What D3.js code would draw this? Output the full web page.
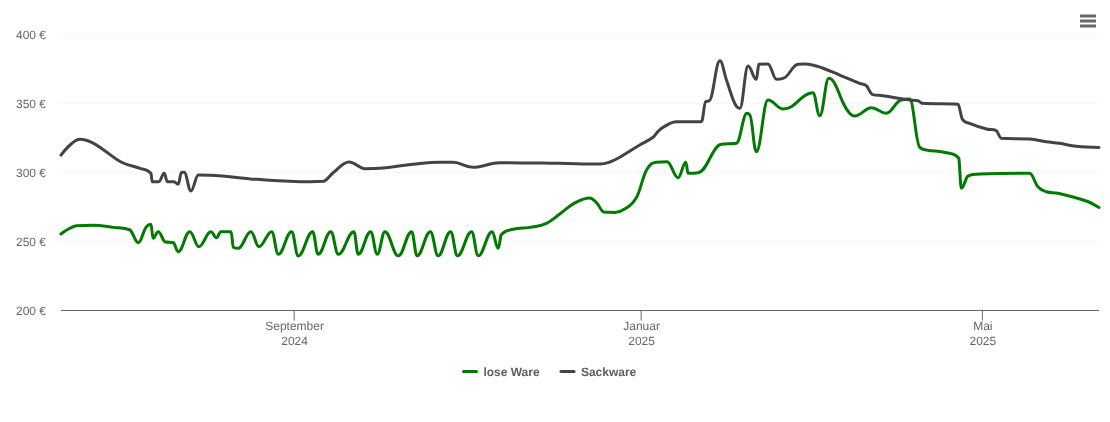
<!DOCTYPE html>
<html>
<head>
<meta charset="utf-8">
<script src="https://cdn.jsdelivr.net/npm/d3@7"></script>
<style>
  html, body { margin: 0; padding: 0; background: #fff; }
  svg { filter: blur(0.35px); }
  text { font-family: "Liberation Sans", Arial, sans-serif; text-rendering: geometricPrecision; }
</style>
</head>
<body>
<svg id="chart" width="1110" height="422"></svg>
<script>
// days are counted from the left edge of the axis
const startDate = '2024-06-11'
const endDate = '2025-06-11'

const yTicks = [200, 250, 300, 350, 400]
const xTicks = ['2024-09-01', '2025-01-01', '2025-05-01']
const xTickLabels = [['September', '2024'], ['Januar', '2025'], ['Mai', '2025']]
const seriesNames = ['lose Ware', 'Sackware']
const seriesColors = ['#007a00', '#434343']

const loseDays = [0, 2.6, 5.5, 11.2, 18.4, 24.3, 27.2, 30.1, 31.6, 32.4, 34.2, 36.6, 39.5, 41.2, 45.3, 48.5, 52.7, 54.7, 56.2, 59.8, 60.6, 62.3, 66.8, 69.6, 74.1, 76.4, 81.1, 83.4, 88.5, 90.4, 94.9, 97.5, 103, 104.5, 108.9, 111.2, 113.9, 118.6, 123.3, 125.2, 129.9, 132.6, 137, 139.4, 144.4, 146.7, 151.6, 153.7, 154.7, 159, 164.9, 170.7, 175.4, 180.7, 185.9, 188.4, 190.9, 194.7, 198.2, 202.4, 205.9, 209.4, 213.1, 217, 219.7, 220.5, 224, 232.2, 237.5, 241.2, 242.2, 244.5, 248.6, 253.9, 256.8, 261.5, 264.4, 266.8, 270, 272, 275.2, 277.3, 279.1, 285, 290.2, 295.5, 298.4, 302, 304.3, 311.3, 315.7, 316.6, 318.9, 323, 340.6, 343.5, 346.5, 350.5, 360.5, 365]
const loseValues = [255.8, 259.4, 261.8, 262.1, 260.6, 258.7, 249.5, 261.1, 262.8, 252.7, 257.5, 250.2, 249.5, 243, 257.5, 246.6, 257.5, 253.1, 257.5, 257.5, 246.2, 245.4, 257.5, 246.6, 257.5, 241.1, 257.5, 239.9, 257.5, 241.1, 257.5, 241.1, 257.5, 241.1, 257.5, 241.1, 257.5, 240, 257.5, 240, 257.5, 240, 257.5, 240, 257.5, 240, 257.5, 245.4, 255, 259.2, 260.6, 263.5, 270.3, 278.3, 281.9, 278.3, 271.7, 271.4, 273.9, 282.4, 302.2, 307.8, 308.2, 296.6, 307.8, 299.8, 300.2, 320.8, 321.5, 343.3, 342, 315.4, 352.9, 346.4, 348, 356, 358.2, 341.5, 368.6, 365, 350, 343.3, 341.3, 347.3, 343.3, 352.9, 353.6, 318.6, 316.7, 314.7, 310.7, 288.9, 297.8, 299.3, 299.8, 290.1, 286.4, 285.3, 279.7, 275]

const sackDays = [0, 3.2, 6.7, 10.8, 15, 21.3, 27.8, 31.6, 32.1, 34.4, 36.3, 37.4, 39.7, 41.2, 42.4, 43.3, 45.7, 48.3, 56.9, 68.8, 87.5, 92.2, 95.6, 101.3, 106.9, 113.3, 123.8, 133.2, 137.9, 144.9, 154.3, 175.4, 189.5, 193, 196.5, 203.5, 208.2, 209.9, 211.7, 216.4, 225.2, 226.7, 227.9, 231.7, 234, 236.9, 238.7, 241.6, 244.5, 245.4, 248.6, 251.6, 253.9, 259.2, 261.5, 265.6, 268, 273.8, 280.8, 283.2, 285.2, 289, 298.4, 301.3, 302.7, 315.4, 316.9, 319.5, 325.4, 328.9, 330.6, 340.6, 346.5, 351.1, 357, 365]
const sackValues = [313, 320.3, 324.4, 322.2, 316.7, 307.8, 303.4, 299.8, 293.7, 293.7, 299.8, 293.7, 293.7, 291.8, 300.5, 300.5, 287, 298.6, 297.8, 295.4, 293.7, 294, 300, 308, 303.1, 303.6, 306.3, 307.8, 307.8, 304.1, 307.5, 307, 306.5, 308, 311.4, 320.3, 325.9, 330, 333.1, 337.2, 337.2, 351.7, 352.4, 381.3, 367.4, 350.5, 346.9, 377.5, 367.9, 378.8, 379, 367.9, 368.6, 378.8, 379, 377.5, 375.9, 371, 365, 363.3, 357, 356, 352.9, 352.4, 350.5, 349.8, 339.1, 336, 331.9, 330.7, 325.1, 324.6, 322.7, 321.5, 319.3, 318.5]

const seriesDays = [loseDays, sackDays]
const seriesValues = [loseValues, sackValues]

const margin = { top: 35, right: 11, bottom: 111, left: 61 }
const width = 1110
const height = 422
const textColor = '#666666'

const parseDate = d3.utcParse('%Y-%m-%d')
const dayToDate = day => new Date(+parseDate(startDate) + day * 864e5)

const x = d3.scaleUtc()
  .domain([parseDate(startDate), parseDate(endDate)])
  .range([margin.left, width - margin.right])

const y = d3.scaleLinear()
  .domain([200, 400])
  .range([height - margin.bottom, margin.top])

// NOTE: spline with flat tangents at the extremes, control points at 0.4 of the gap
const smoothSpline = context => {
  let pts = []
  return {
    areaStart() {},
    areaEnd() {},
    lineStart() { pts = [] },
    point(px, py) { pts.push([+px, +py]) },
    lineEnd() {
      const conts = pts.map(([px, py], i) => {
        if (i === 0 || i === pts.length - 1) return { lx: px, ly: py, rx: px, ry: py }
        const [ax, ay] = pts[i - 1]
        const [bx, by] = pts[i + 1]
        const lx = (1.5 * px + ax) / 2.5
        const rx = (1.5 * px + bx) / 2.5
        let ly = (1.5 * py + ay) / 2.5
        let ry = (1.5 * py + by) / 2.5
        const correction = ((ry - ly) * (rx - px)) / (rx - lx) + py - ry
        ly += correction
        ry += correction
        if (ly > ay && ly > py) {
          ly = Math.max(ay, py)
          ry = 2 * py - ly
        } else if (ly < ay && ly < py) {
          ly = Math.min(ay, py)
          ry = 2 * py - ly
        }
        if (ry > by && ry > py) {
          ry = Math.max(by, py)
          ly = 2 * py - ry
        } else if (ry < by && ry < py) {
          ry = Math.min(by, py)
          ly = 2 * py - ry
        }
        return { lx, ly, rx, ry }
      })
      pts.forEach(([px, py], i) => {
        if (i === 0) context.moveTo(px, py)
        else context.bezierCurveTo(conts[i - 1].rx, conts[i - 1].ry, conts[i].lx, conts[i].ly, px, py)
      })
    },
  }
}

const svg = d3.select('#chart')

// y axis with dotted grid lines
const yAxis = svg.append('g')
  .attr('transform', `translate(${margin.left},0)`)
  .call(d3.axisLeft(y)
    .tickValues(yTicks)
    .tickSize(-(width - margin.left - margin.right))
    .tickPadding(15)
    .offset(-0.5)
    .tickFormat(d => `${d} €`))

yAxis.select('.domain').remove()
yAxis.selectAll('.tick line')
  .attr('stroke', '#e6e6e6')
  .attr('stroke-dasharray', '1,3')
  .filter(d => d === 200).remove()
yAxis.selectAll('.tick text')
  .attr('fill', textColor)
  .attr('dy', 4.5)
  .style('font-size', '12px')

// x axis, label has two rows
const xAxis = svg.append('g')
  .attr('transform', `translate(0,${height - margin.bottom - 0.5})`)
  .call(d3.axisBottom(x)
    .tickValues(xTicks.map(parseDate))
    .tickSize(10)
    .tickSizeOuter(0)
    .offset(0)
    .tickFormat(''))

xAxis.select('.domain').attr('stroke', '#666666').attr('stroke-width', 1)
xAxis.selectAll('.tick line').attr('stroke', '#666666')

xAxis.selectAll('.tick text')
  .attr('fill', textColor)
  .style('font-size', '12px')
  .attr('y', 0)
  .attr('dy', null)
  .each(function (d, i) {
    d3.select(this).selectAll('tspan')
      .data(xTickLabels[i])
      .join('tspan')
      .attr('x', 0.4)
      .attr('y', (t, row) => 19.5 + row * 15)
      .text(t => t)
  })

// series lines
const line = d3.line()
  .x(d => x(dayToDate(d.day)))
  .y(d => y(d.value))
  .curve(smoothSpline)

seriesNames.forEach((name, s) => {
  const points = seriesDays[s].map((day, i) => ({ day, value: seriesValues[s][i] }))
  svg.append('path')
    .datum(points)
    .attr('class', 'series')
    .attr('fill', 'none')
    .attr('stroke', seriesColors[s])
    .attr('stroke-width', 3)
    .attr('stroke-linejoin', 'round')
    .attr('stroke-linecap', 'round')
    .attr('d', line)
})

// legend
const legendX = [462, 559.5]
const legend = svg.append('g')
  .selectAll('g')
  .data(seriesNames)
  .join('g')
  .attr('transform', (d, i) => `translate(${legendX[i]},371.5)`)

legend.append('line')
  .attr('x1', 1.5)
  .attr('x2', 14.5)
  .attr('stroke', (d, i) => seriesColors[i])
  .attr('stroke-width', 3)
  .attr('stroke-linecap', 'round')

legend.append('text')
  .attr('x', 21.4)
  .attr('y', 4.5)
  .attr('fill', '#5f5f5f')
  .style('font-size', '12px')
  .style('font-weight', 'bold')
  .text(d => d)

// menu icon
svg.append('g')
  .selectAll('line')
  .data(['top', 'middle', 'bottom'])
  .join('line')
  .attr('x1', 1080)
  .attr('x2', 1096)
  .attr('y1', (d, i) => 16 + i * 5)
  .attr('y2', (d, i) => 16 + i * 5)
  .attr('stroke', '#666666')
  .attr('stroke-width', 3)
</script>
</body>
</html>
